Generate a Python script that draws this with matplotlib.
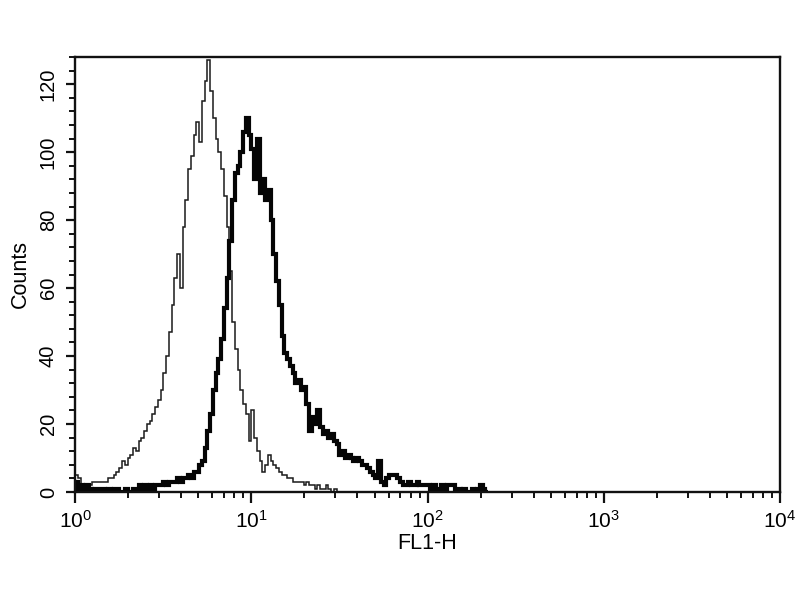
import numpy as np
import matplotlib.pyplot as plt
from matplotlib.ticker import MultipleLocator, LogLocator, LogFormatterSciNotation

plt.rcParams['font.family'] = ['Liberation Sans', 'DejaVu Sans']
plt.rcParams['mathtext.default'] = 'regular'

# 256-channel log histogram over 4 decades; only the leading non-empty channels are listed
channels_per_decade = 64
decades = 4

# isotype control (thin line)
control_counts = [
    5, 4, 2, 1, 2, 2, 3, 3, 3, 3,
    3, 3, 4, 4, 5, 6, 7, 9, 8, 10,
    11, 13, 12, 15, 16, 18, 20, 21, 23, 25,
    27, 30, 35, 40, 47, 55, 63, 70, 60, 78,
    86, 95, 99, 105, 109, 103, 115, 121, 127, 118,
    110, 104, 100, 95, 87, 78, 65, 50, 42, 36,
    30, 26, 23, 15, 24, 16, 12, 9, 6, 8,
    11, 9, 8, 7, 6, 5, 5, 4, 4, 3,
    3, 3, 3, 2, 3, 2, 2, 1, 2, 1,
    1, 2, 1, 0, 1, 0,
]

# stained sample (thick line)
sample_counts = [
    3, 1, 2, 1, 2, 1, 0, 1, 1, 1,
    1, 0, 1, 0, 1, 1, 0, 0, 1, 0,
    0, 1, 1, 2, 1, 2, 1, 2, 1, 2,
    2, 2, 3, 2, 3, 3, 3, 4, 3, 4,
    4, 5, 4, 6, 6, 8, 9, 13, 18, 23,
    30, 35, 39, 45, 54, 63, 74, 86, 94, 96,
    100, 106, 110, 105, 101, 92, 104, 88, 92, 86,
    89, 80, 70, 62, 55, 46, 41, 39, 37, 35,
    32, 33, 30, 31, 26, 18, 22, 20, 24, 19,
    17, 18, 16, 17, 15, 14, 11, 12, 10, 11,
    10, 9, 10, 9, 8, 8, 7, 6, 5, 4,
    9, 3, 2, 4, 5, 5, 5, 4, 3, 2,
    2, 3, 2, 2, 3, 2, 2, 2, 2, 1,
    2, 1, 1, 2, 1, 2, 2, 2, 1, 1,
    0, 1, 0, 0, 1, 0, 1, 2, 1, 0,
]


def channel_edges(n):
    return 10 ** (np.arange(n + 1) / channels_per_decade)


fig = plt.figure(figsize=(8, 6), dpi=100)
ax = fig.add_axes([0.094, 0.18, 0.881, 0.725])

ax.stairs(control_counts, channel_edges(len(control_counts)),
          color='#1a1a1a', linewidth=1.1)
ax.stairs(sample_counts, channel_edges(len(sample_counts)),
          color='#050505', linewidth=3.0)

ax.set_xscale('log')
ax.set_xlim(1, 10 ** decades)
ax.set_ylim(0, 128)

ax.xaxis.set_major_locator(LogLocator(base=10, numticks=10))
ax.xaxis.set_minor_locator(LogLocator(base=10, subs=np.arange(2, 10), numticks=50))
ax.xaxis.set_major_formatter(LogFormatterSciNotation())
ax.yaxis.set_major_locator(MultipleLocator(20))
ax.yaxis.set_minor_locator(MultipleLocator(4))

ax.tick_params(which='both', direction='out', color='#111111')
ax.tick_params(axis='x', which='major', length=8, width=1.6, labelsize=15, pad=5)
ax.tick_params(axis='y', which='major', length=6.5, width=1.6, labelsize=14.5, pad=6)
ax.tick_params(which='minor', length=4.5, width=1.4)
for lab in ax.get_yticklabels():
    lab.set_rotation(90)
    lab.set_va('center')

for s in ax.spines.values():
    s.set_linewidth(1.7)
    s.set_color('#111111')

ax.set_xlabel('FL1-H', fontsize=15.5, labelpad=0.5)
ax.set_ylabel('Counts', fontsize=15.5, labelpad=5.5)

fig.savefig('out.png', dpi=100)
plt.close(fig)
